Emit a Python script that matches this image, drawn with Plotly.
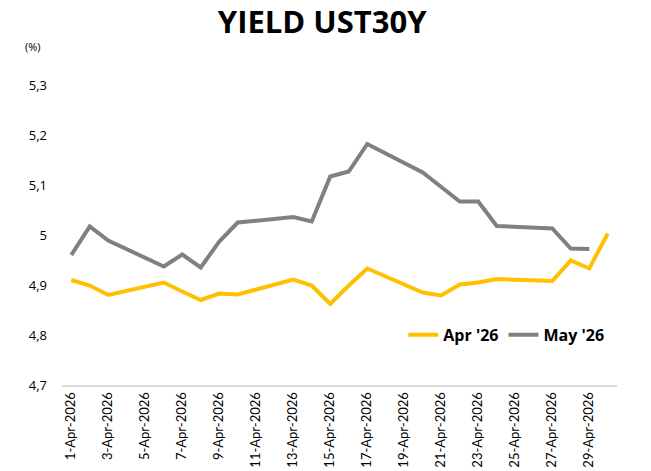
import plotly.graph_objects as go

# Data
apr_days = [1, 2, 3, 6, 7, 8, 9, 10, 13, 14, 15, 16, 17, 20, 21, 22, 23, 24, 27, 28, 29, 30]
apr_vals = [4.910, 4.899, 4.880, 4.905, 4.887, 4.870, 4.883, 4.881, 4.911, 4.899, 4.862,
            4.899, 4.933, 4.885, 4.879, 4.901, 4.905, 4.912, 4.908, 4.949, 4.933, 5.003]
may_days = [1, 2, 3, 6, 7, 8, 9, 10, 13, 14, 15, 16, 17, 20, 21, 22, 23, 24, 27, 28, 29]
may_vals = [4.960, 5.017, 4.989, 4.937, 4.961, 4.935, 4.987, 5.025, 5.036, 5.027, 5.117,
            5.127, 5.182, 5.125, 5.096, 5.067, 5.067, 5.018, 5.013, 4.973, 4.972]
tick_days = list(range(1, 31, 2))
tick_labels = [f"{d}-Apr-2026" for d in tick_days]
series_names = ["Apr '26", "May '26"]
colors = ["#FFC000", "#808080"]

def to_date(d):
    return f"2026-04-{d:02d}"

fig = go.Figure()
fig.add_trace(go.Scatter(x=[to_date(d) for d in apr_days], y=apr_vals, mode="lines",
                         name=series_names[0], line=dict(color=colors[0], width=4)))
fig.add_trace(go.Scatter(x=[to_date(d) for d in may_days], y=may_vals, mode="lines",
                         name=series_names[1], line=dict(color=colors[1], width=4)))

fig.update_layout(
    width=651, height=471,
    margin=dict(l=62, r=34, t=85, b=86),
    paper_bgcolor="white", plot_bgcolor="white",
    separators=",.",
    font=dict(family="Open Sans, Arial, sans-serif", color="#000000"),
    title=dict(text="<b>YIELD UST30Y</b>", x=0.495, xanchor="center", y=0.953, yanchor="middle",
               font=dict(size=31, family="Open Sans, Arial, sans-serif", color="#000000")),
    showlegend=True,
    legend=dict(orientation="h", x=0.615, y=0.167, xanchor="left", yanchor="middle",
                bgcolor="rgba(0,0,0,0)",
                font=dict(size=16, color="#000000", weight="bold"),
                traceorder="normal"),
)
fig.update_xaxes(
    type="date",
    range=["2026-03-31 12:00", "2026-04-30 12:00"],
    tickmode="array",
    tickvals=[to_date(d) for d in tick_days],
    ticktext=tick_labels,
    tickangle=-90,
    tickfont=dict(size=13, color="#000000", family="Lato, Open Sans, sans-serif"),
    showgrid=False, zeroline=False,
    showline=True, linecolor="#D9D9D9", linewidth=2,
    ticks="", automargin=False,
)
fig.update_yaxes(
    range=[4.7, 5.3],
    dtick=0.1, tick0=4.7,
    tickfont=dict(size=13, color="#000000"),
    showgrid=False, zeroline=False, showline=False,
    ticks="", ticklabelstandoff=14, automargin=False,
)
fig.add_annotation(text="(%)", xref="paper", yref="paper", x=-0.034, y=1.127,
                   xanchor="right", yanchor="middle", showarrow=False,
                   font=dict(size=11, color="#000000"))
fig.write_html("out.html", config={"displayModeBar": False},
               post_script="document.body.style.margin='0px';")
